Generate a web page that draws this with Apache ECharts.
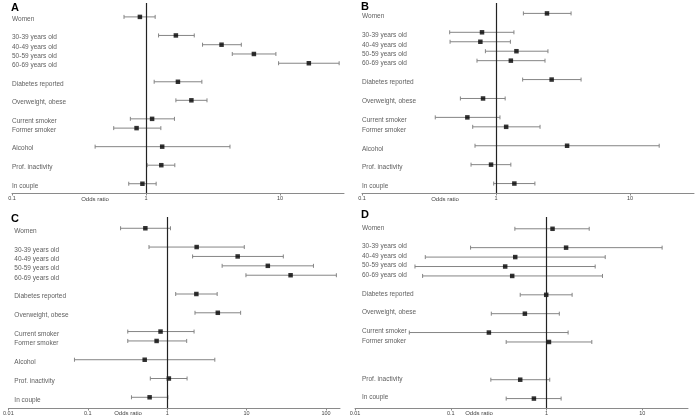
<!DOCTYPE html>
<html>
<head>
<meta charset="utf-8">
<script src="https://cdn.jsdelivr.net/npm/echarts@6/dist/echarts.min.js"></script>
<style>html,body{margin:0;padding:0;background:#fff}#c{width:697px;height:418px}</style>
</head>
<body>
<div id="c"></div>
<script>
// ---- data ----
const categories = ['Women','30-39 years old','40-49 years old','50-59 years old','60-69 years old','Diabetes reported','Overweight, obese','Current smoker','Former smoker','Alcohol','Prof. inactivity','In couple'];
const rowY = [20,18,17,16,15,13,11,9,8,6,4,2];

const aOR = [0.90,1.67,3.66,6.38,16.4,1.73,2.18,1.11,0.85,1.32,1.30,0.94];
const aLo = [0.685,1.24,2.64,4.40,9.75,1.15,1.67,0.764,0.574,0.417,1.02,0.743];
const aHi = [1.17,2.29,5.14,9.31,27.6,2.61,2.85,1.63,1.29,4.23,1.64,1.19];

const bOR = [2.40,0.786,0.764,1.42,1.29,2.60,0.80,0.611,1.19,3.39,0.918,1.37];
const bLo = [1.60,0.451,0.454,0.833,0.721,1.58,0.542,0.352,0.670,0.697,0.651,0.961];
const bHi = [3.63,1.36,1.28,2.44,2.32,4.31,1.17,1.07,2.13,16.5,1.29,1.95];

const cOR = [0.531,2.35,7.72,18.5,35.8,2.33,4.34,0.825,0.736,0.521,1.05,0.601];
const cLo = [0.259,0.590,2.09,4.92,9.81,1.28,2.24,0.319,0.319,0.068,0.613,0.355];
const cHi = [1.10,9.35,29.0,69.5,135,4.26,8.41,2.18,1.76,3.98,1.78,1.02];

const dOR = [1.155,1.60,0.471,0.370,0.438,0.992,0.594,0.250,1.06,null,0.531,0.738];
const dLo = [0.467,0.161,0.0542,0.0423,0.0508,0.531,0.265,0.0369,0.379,null,0.262,0.379];
const dHi = [2.79,16.1,4.10,3.22,3.84,1.85,1.36,1.68,2.97,null,1.08,1.42];

const panelNames = ['A','B','C','D'];
const ticksAB = [0.1,1,10];
const ticksC = [0.01,0.1,1,10,100];
const ticksD = [0.01,0.1,1,10];
const axisTitle = 'Odds ratio';

// ---- layout ----
const panels = [
  {name:panelNames[0], or:aOR, lo:aLo, hi:aHi, ticks:ticksAB, xMin:0.1, xMax:30, yMin:1, yMax:21.5,
   grid:{left:12, top:3, width:332, height:190}, lblOff:[0,2], letter:[11,7.5], odds:[95,199.3]},
  {name:panelNames[1], or:bOR, lo:bLo, hi:bHi, ticks:ticksAB, xMin:0.1, xMax:30, yMin:1, yMax:21.1,
   grid:{left:362, top:3, width:332, height:190}, lblOff:[0,3], letter:[361,7], odds:[445,199]},
  {name:panelNames[2], or:cOR, lo:cLo, hi:cHi, ticks:ticksC, xMin:0.01, xMax:150, yMin:0.86, yMax:21.2,
   grid:{left:6, top:217, width:334, height:191}, lblOff:[6,2.7], letter:[11,218.7], odds:[128,413]},
  {name:panelNames[3], or:dOR, lo:dLo, hi:dHi, ticks:ticksD, xMin:0.01, xMax:30, yMin:1, yMax:21.25,
   grid:{left:355, top:217, width:333, height:191}, lblOff:[7,-1], letter:[361,215], odds:[479,413.3]}
];

function fmtTick(v){
  const l = Math.log10(v);
  if (Math.abs(l - Math.round(l)) > 1e-6) return '';
  return String(+Number(v).toPrecision(2));
}

const option = {
  animation:false,
  backgroundColor:'#fff',
  grid:[], xAxis:[], yAxis:[], series:[], graphic:[]
};

panels.forEach((p, i) => {
  option.grid.push(Object.assign({containLabel:false}, p.grid));
  option.xAxis.push({
    type:'log', logBase:10, gridIndex:i, min:p.xMin, max:p.xMax,
    axisLine:{onZero:false, lineStyle:{color:'#8a8a8a', width:1}},
    axisTick:{show:true, length:2.5, lineStyle:{color:'#8a8a8a'}, customValues:p.ticks},
    axisLabel:{fontSize:5.5, color:'#444', margin:2.5, fontFamily:'Liberation Sans',
      customValues:p.ticks, formatter:fmtTick, showMinLabel:true, showMaxLabel:true, hideOverlap:false},
    splitLine:{show:false}, minorTick:{show:false}
  });
  option.yAxis.push({type:'value', gridIndex:i, min:p.yMin, max:p.yMax, show:false,
    splitLine:{show:false}});

  const barData = [], ptData = [], lblData = [];
  categories.forEach((c, k) => {
    if (p.or[k] == null) return;
    barData.push([p.or[k], rowY[k], p.lo[k], p.hi[k]]);
    ptData.push([p.or[k], rowY[k]]);
    lblData.push({value:[p.xMin, rowY[k]], name:c});
  });

  option.series.push({
    type:'custom', xAxisIndex:i, yAxisIndex:i, data:barData, encode:{x:0, y:1}, z:2, silent:true,
    renderItem(params, api){
      const y = api.value(1);
      const a = api.coord([api.value(2), y]);
      const b = api.coord([api.value(3), y]);
      const h = 2;
      const st = {stroke:'#858585', lineWidth:1};
      return {type:'group', children:[
        {type:'line', shape:{x1:a[0], y1:a[1], x2:b[0], y2:b[1]}, style:st},
        {type:'line', shape:{x1:a[0], y1:a[1]-h, x2:a[0], y2:a[1]+h}, style:st},
        {type:'line', shape:{x1:b[0], y1:b[1]-h, x2:b[0], y2:b[1]+h}, style:st}
      ]};
    },
    markLine:{silent:true, symbol:'none', label:{show:false},
      lineStyle:{color:'#222', width:1.2, type:'solid'}, data:[{xAxis:1}]}
  });
  option.series.push({
    type:'scatter', xAxisIndex:i, yAxisIndex:i, data:ptData, symbol:'rect', symbolSize:4.5,
    itemStyle:{color:'#000'}, z:4, silent:true
  });
  option.series.push({
    type:'scatter', xAxisIndex:i, yAxisIndex:i, data:lblData, symbolSize:0, z:3, silent:true, clip:false,
    label:{show:true, position:'right', distance:0, offset:p.lblOff, formatter:'{b}',
      fontSize:6.5, color:'#333', fontFamily:'Liberation Sans'}
  });

  option.graphic.push({type:'text', left:p.letter[0], top:p.letter[1]-5.5, silent:true,
    style:{text:p.name, font:'bold 11px "Liberation Sans"', fill:'#000'}});
  option.graphic.push({type:'text', x:p.odds[0], y:p.odds[1], silent:true,
    style:{text:axisTitle, font:'6px "Liberation Sans"', fill:'#444', align:'center', verticalAlign:'middle'}});
});

const chart = echarts.init(document.getElementById('c'), null, {renderer:'canvas'});
chart.setOption(option);
</script>
</body>
</html>
